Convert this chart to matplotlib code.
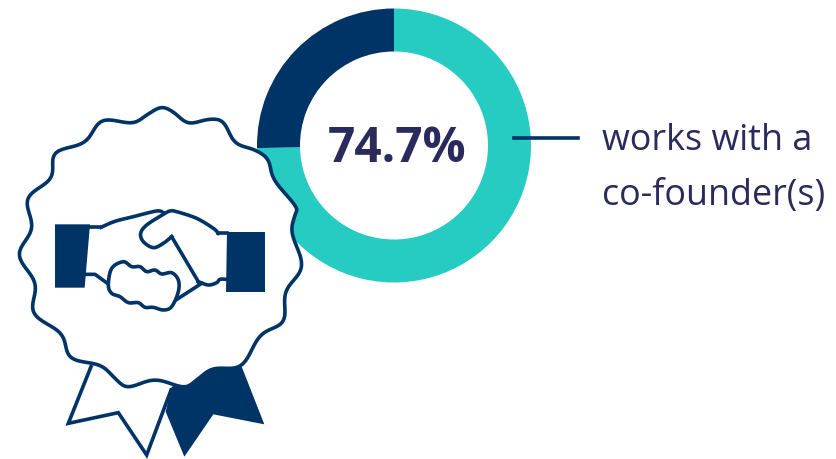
import numpy as np
import matplotlib.pyplot as plt
from matplotlib.patches import Polygon

plt.rcParams['font.family'] = ['Open Sans', 'DejaVu Sans']

W, H = 837, 459
NAVY = '#003366'
TEAL = '#26CCC2'
INK = '#2A2A5C'
STROKE = 2.6

shares = [74.7, 25.3]
share_label = '74.7%'
caption = ['works with a', 'co-founder(s)']

# icon outlines, drawn on a 3x grid that starts at y=100 px
badge = [(483,22),(520,36),(565,70),(625,58),(670,66),(705,128),(765,150),(805,180),
         (822,240),(887,318),(885,345),(875,400),(908,500),(855,575),(852,665),(780,705),
         (725,799),(640,805),(590,840),(550,862),(465,838),(385,862),(345,835),(300,795),
         (210,774),(185,700),(98,640),(108,550),(54,465),(98,385),(80,295),(155,235),
         (163,158),(255,128),(305,60),(395,70),(440,45)]
fingers = [(370,485),(395,500),(420,500),(440,515),(465,510),(485,522),(515,518),(535,540),
           (535,575),(515,620),(490,630),(460,622),(435,622),(415,608),(385,608),(360,590),
           (335,580),(325,555),(335,505)]
thumb = [(655,400),(640,385),(590,355),(530,335),(510,333),(490,343),(440,375),(422,400),
         (430,425),(460,443),(490,430),(515,410)]
wrist = [(595,545),(625,555),(650,548),(660,538),(680,538)]
left_arm = [(303,382),(345,364),(400,350),(470,333),(490,338)]
left_cuff = [(165,373),(270,373),(254,563),(165,563)]
right_cuff = [(680,395),(796,395),(796,576),(677,576)]
ribbon_l = [(275,795),(205,970),(355,938),(440,1065),(515,865)]
ribbon_r = [(515,860),(497,935),(553,1070),(640,943),(793,973),(725,800),(640,805),(590,840)]


def to_px(pts):
    pts = np.array(pts, dtype=float)
    return np.column_stack([pts[:, 0] / 3, H - (100 + pts[:, 1] / 3)])


def smooth(pts, closed=False, n=16):
    # catmull-rom through the points
    p = to_px(pts)
    if closed:
        p = np.vstack([p[-1], p, p[0], p[1]])
    else:
        p = np.vstack([p[0], p, p[-1]])
    t = np.linspace(0, 1, n, endpoint=False)[:, None]
    out = []
    for i in range(1, len(p) - 2):
        a, b, c, d = p[i - 1], p[i], p[i + 1], p[i + 2]
        out.append(0.5 * (2 * b + (c - a) * t + (2 * a - 5 * b + 4 * c - d) * t ** 2
                          + (3 * b - a - 3 * c + d) * t ** 3))
    out = np.vstack(out)
    return out if closed else np.vstack([out, p[-2]])


def soften(xy, k=13):
    # circular moving average, takes the kinks out of a closed curve
    win = np.hanning(k + 2)[1:-1]
    win = win / win.sum()
    wrapped = np.vstack([xy[-k:], xy, xy[:k]])
    xs = np.convolve(wrapped[:, 0], win, mode='same')[k:-k]
    ys = np.convolve(wrapped[:, 1], win, mode='same')[k:-k]
    return np.column_stack([xs, ys])


fig = plt.figure(figsize=(W / 100, H / 100), dpi=100)
ax = fig.add_axes([0, 0, 1, 1])

ax.pie(shares, colors=[TEAL, NAVY], startangle=90, counterclock=False,
       center=(394, H - 145.5), radius=137,
       wedgeprops={'width': 43, 'linewidth': 0})
ax.set_xlim(0, W)
ax.set_ylim(0, H)
ax.set_aspect('equal')
ax.axis('off')

ax.text(397.5, H - 149, share_label, fontsize=34.4, fontweight='bold', color=INK,
        ha='center', va='center', zorder=6)
ax.plot([514, 578], [H - 138, H - 138], color=NAVY, lw=STROKE, zorder=3)
ax.text(602, H - 141, caption[0], fontsize=25.8, color=INK, va='center')
ax.text(602, H - 196, caption[1], fontsize=25.8, color=INK, va='center')

# ribbon sits behind the badge
ax.add_patch(Polygon(to_px(ribbon_l), closed=False, fc='white', ec=NAVY, lw=STROKE,
                     joinstyle='miter', zorder=4))
ax.add_patch(Polygon(to_px(ribbon_r), closed=True, fc=NAVY, ec='none', zorder=4))

ax.add_patch(Polygon(soften(smooth(badge, closed=True), k=17), closed=True, fc='white', ec=NAVY,
                     lw=STROKE, zorder=5))

# handshake
ax.add_patch(Polygon(to_px(left_cuff), closed=True, fc=NAVY, ec='none', zorder=6))
ax.add_patch(Polygon(to_px(right_cuff), closed=True, fc=NAVY, ec='none', zorder=6))
ax.add_patch(Polygon(soften(smooth(fingers, closed=True), k=7), closed=True, fc='white', ec=NAVY,
                     lw=STROKE, zorder=7))
for part in [thumb, wrist, left_arm]:
    xy = smooth(part)
    ax.plot(xy[:, 0], xy[:, 1], color=NAVY, lw=STROKE, zorder=6)
for seg in [[(270,382),(303,382)], [(515,410),(595,545)], [(258,523),(285,523),(325,552)],
            [(520,605),(605,550)], [(655,400),(682,400)]]:
    xy = to_px(seg)
    ax.plot(xy[:, 0], xy[:, 1], color=NAVY, lw=STROKE, zorder=6)

fig.savefig('out.png', dpi=100)
